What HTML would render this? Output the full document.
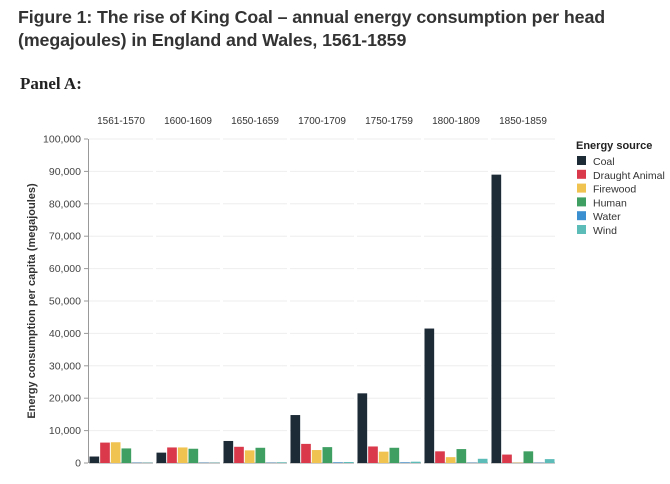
<!DOCTYPE html>
<html><head><meta charset="utf-8"><style>
body{margin:0;width:670px;height:484px;background:#fff;overflow:hidden;font-family:"Liberation Sans",sans-serif}
.title{position:absolute;left:18px;top:6px;font-size:17.8px;font-weight:bold;color:#333;line-height:23px;letter-spacing:-0.1px}
.panel{position:absolute;left:20px;top:74px;font-family:"Liberation Serif",serif;font-weight:bold;font-size:17px;color:#222}
svg{position:absolute;left:0;top:0}
</style></head><body>
<div class="title">Figure 1: The rise of King Coal – annual energy consumption per head<br>(megajoules) in England and Wales, 1561-1859</div>
<div class="panel">Panel A:</div>
<svg id="c" width="670" height="484"></svg>
<script>
const periods=["1561-1570","1600-1609","1650-1659","1700-1709","1750-1759","1800-1809","1850-1859"];
const sources=["Coal","Draught Animal","Firewood","Human","Water","Wind"];
const colors=["#1c2b36","#d9394b","#f0c24f","#3f9f62","#3a8fd0","#5bbcb8"];
const coal=[2000,3200,6800,14800,21500,41500,89000];
const draught=[6300,4800,5000,5900,5100,3600,2600];
const firewood=[6400,4800,3900,4000,3500,1800,100];
const human=[4500,4400,4700,4900,4700,4300,3600];
const water=[100,100,100,200,200,100,100];
const wind=[100,100,200,300,400,1300,1200];
const yTicks=[0,10000,20000,30000,40000,50000,60000,70000,80000,90000,100000];
const series=[coal,draught,firewood,human,water,wind];
const svg=document.getElementById('c');const NS="http://www.w3.org/2000/svg";
function el(t,a,p){const e=document.createElementNS(NS,t);for(const k in a)e.setAttribute(k,a[k]);(p||svg).appendChild(e);return e;}
const y0=463,y1=139,yMax=100000;
const y=v=>y0-(v/yMax)*(y0-y1);
const px0=89,pStep=67,pW=64;
const px=i=>px0+i*pStep;
const bw=pW/6;
yTicks.forEach(t=>{
 for(let i=0;i<periods.length;i++){const g=el('line',{x1:px(i),x2:px(i)+pW,y1:y(t),y2:y(t),stroke:t===0?'#bbb':'#eee','stroke-width':t===0?1.5:1});
 }
 const tk=el('line',{x1:84,x2:88,y1:y(t),y2:y(t),stroke:'#999'});
 
 const tx=el('text',{x:81,y:y(t)+3.5,'text-anchor':'end','font-size':10.5,fill:'#444'});tx.textContent=t.toLocaleString('en-US');
 
});
const ax=el('line',{x1:88.5,x2:88.5,y1:y1,y2:y0,stroke:'#999'});

const yt=el('text',{transform:'translate(35,301) rotate(-90)','text-anchor':'middle','font-size':11,'font-weight':'bold',fill:'#333'});
yt.textContent='Energy consumption per capita (megajoules)';

periods.forEach((p,i)=>{
 const h=el('text',{x:px(i)+pW/2,y:124,'text-anchor':'middle','font-size':10,fill:'#333'});h.textContent=p;
 
 series.forEach((s,j)=>{
  const v=s[i];const r=el('rect',{x:px(i)+j*bw+0.5,y:y(v),width:bw-1,height:y0-y(v),fill:colors[j]});
  
  
 });
});
const lt=el('text',{x:576,y:149,'font-size':11,'font-weight':'bold',fill:'#222'});lt.textContent='Energy source';

sources.forEach((s,j)=>{
 const g=el('g',{});
 el('rect',{x:577,y:156+j*13.8,width:9,height:9,fill:colors[j]},g);
 const t=el('text',{x:593,y:165+j*13.8,'font-size':10.5,fill:'#333'},g);t.textContent=s;
});
</script>
</body></html>
